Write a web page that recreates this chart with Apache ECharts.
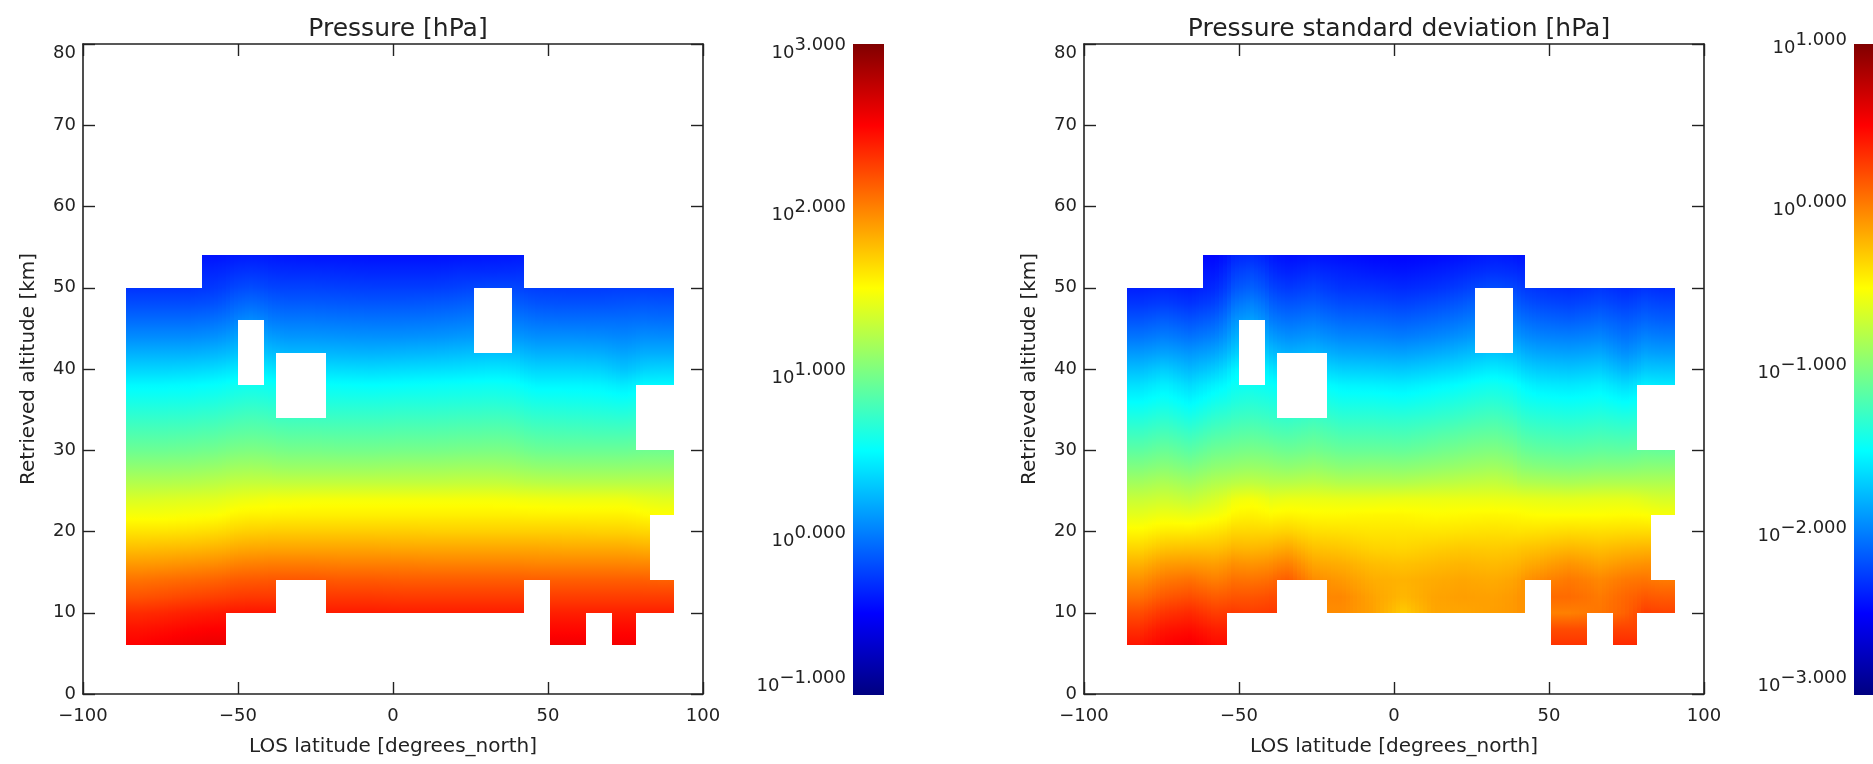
<!DOCTYPE html>
<html>
<head>
<meta charset="utf-8">
<title>Pressure retrieval</title>
<style>html,body{margin:0;padding:0;background:#fff;overflow:hidden}#chart{width:1873px;height:764px}</style>
<script src="https://cdn.jsdelivr.net/npm/echarts@6/dist/echarts.min.js"></script>
</head>
<body>
<div id="chart"></div>
<script>
const n = null;
const xTicks = [-100, -50, 0, 50, 100];
const pressureTitle = 'Pressure [hPa]';
const deviationTitle = 'Pressure standard deviation [hPa]';
const xName = 'LOS latitude [degrees_north]';
const yName = 'Retrieved altitude [km]';
const pressureRange = [-1, 3];
const deviationRange = [-3, 1];
const latEdges = [-86.2,-78,-70,-61.6,-54,-50,-41.7,-37.8,-30,-21.7,-12,-2,8,18,26.1,38.4,42.3,50.6,62.1,70.8,78.3,82.8,90.6];
const altLevels = [54,52,50,48,46,44,42,40,38,36,34,32,30,28,26,24,22,20,18,16,14,12,10,8,6];
// data gaps: [lat from, lat to, altitude from, altitude to]
const gaps = [
  [-86.2,-61.6,50,54],[42.3,90.6,50,54],
  [-50,-41.7,38,46],[-37.8,-21.7,34,42],[26.1,38.4,42,50],
  [78.3,90.6,30,38],[82.8,90.6,14,22],
  [-37.8,-21.7,10,14],[42.3,50.6,10,14],
  [-54,50.6,6,10],[62.1,70.8,6,10],[78.3,90.6,6,10]
];
// log10(pressure), one row per altitude level, one column per latitude bin
const pressureLog = [
[n,n,n,-.43,-.41,-.40,-.41,-.42,-.43,-.43,-.44,-.44,-.44,-.43,-.42,-.41,n,n,n,n,n,n],
[n,n,n,-.35,-.32,-.30,-.32,-.33,-.33,-.34,-.35,-.35,-.35,-.33,-.33,-.32,n,n,n,n,n,n],
[-.30,-.30,-.30,-.28,-.23,-.20,-.23,-.24,-.24,-.25,-.26,-.26,-.26,-.24,-.22,-.23,-.26,-.27,-.27,-.26,-.26,-.27],
[-.20,-.20,-.20,-.18,-.12,-.08,-.12,-.14,-.14,-.15,-.16,-.16,-.15,-.13,-.10,-.13,-.17,-.18,-.18,-.17,-.16,-.17],
[-.08,-.08,-.08,-.06,-.01,.05,-.01,-.03,-.03,-.04,-.05,-.05,-.04,-.02,0,-.02,-.06,-.07,-.07,-.07,-.06,-.07],
[.05,.05,.05,.07,.12,.16,.12,.09,.09,.08,.07,.07,.08,.10,.12,.10,.06,.06,.05,.03,.06,.05],
[.19,.19,.19,.21,.25,.28,.25,.22,.22,.21,.20,.21,.22,.24,.26,.24,.19,.19,.18,.14,.18,.18],
[.33,.33,.34,.36,.40,.42,.40,.37,.37,.36,.35,.36,.37,.38,.40,.38,.33,.33,.32,.26,.32,.33],
[.48,.48,.49,.51,.54,.56,.54,.52,.52,.51,.50,.51,.52,.53,.54,.52,.47,.47,.46,.42,.48,.48],
[.59,.59,.60,.62,.65,.67,.65,.63,.63,.62,.62,.63,.63,.64,.65,.63,.59,.58,.57,.55,.59,.59],
[.70,.70,.71,.73,.76,.78,.76,.74,.74,.73,.73,.74,.74,.75,.76,.74,.70,.69,.68,.67,.70,.70],
[.81,.81,.82,.84,.87,.88,.87,.85,.85,.84,.84,.85,.85,.86,.87,.85,.81,.80,.79,.79,.81,.81],
[.92,.92,.93,.95,.98,.99,.98,.96,.96,.95,.95,.96,.96,.97,.98,.96,.92,.91,.91,.91,.93,.93],
[1.06,1.06,1.07,1.09,1.12,1.13,1.12,1.10,1.10,1.10,1.10,1.11,1.11,1.12,1.12,1.10,1.07,1.06,1.06,1.06,1.07,1.07],
[1.20,1.20,1.21,1.23,1.26,1.27,1.27,1.26,1.26,1.26,1.26,1.26,1.26,1.27,1.27,1.25,1.23,1.22,1.22,1.22,1.22,1.22],
[1.35,1.36,1.37,1.38,1.41,1.43,1.45,1.45,1.46,1.46,1.46,1.46,1.46,1.46,1.46,1.45,1.44,1.43,1.43,1.43,1.40,1.38],
[1.47,1.47,1.48,1.49,1.53,1.55,1.55,1.56,1.56,1.56,1.56,1.56,1.56,1.56,1.56,1.56,1.55,1.55,1.55,1.55,1.52,1.50],
[1.61,1.61,1.62,1.64,1.67,1.69,1.70,1.70,1.70,1.70,1.70,1.70,1.69,1.69,1.69,1.69,1.69,1.69,1.68,1.68,1.66,n],
[1.75,1.76,1.77,1.79,1.82,1.84,1.85,1.85,1.85,1.85,1.85,1.84,1.84,1.84,1.84,1.84,1.84,1.83,1.83,1.83,1.81,n],
[1.90,1.91,1.93,1.95,1.98,2.00,2.01,2.01,2.01,2.00,2.00,2.00,1.99,1.99,1.99,1.99,1.98,1.98,1.98,1.98,1.97,n],
[2.05,2.07,2.09,2.11,2.14,2.15,2.16,2.16,2.16,2.15,2.15,2.14,2.14,2.14,2.14,2.14,2.13,2.13,2.13,2.13,2.13,2.12],
[2.18,2.20,2.23,2.25,2.27,2.28,2.28,n,n,2.28,2.28,2.27,2.27,2.27,2.27,2.27,n,2.26,2.26,2.26,2.26,2.26],
[2.33,2.35,2.38,2.40,2.42,2.42,2.42,n,n,2.40,2.40,2.39,2.39,2.39,2.39,2.39,n,2.38,2.38,2.38,2.38,2.38],
[2.43,2.45,2.48,2.50,n,n,n,n,n,n,n,n,n,n,n,n,n,2.47,n,2.47,n,n],
[2.50,2.53,2.56,2.58,n,n,n,n,n,n,n,n,n,n,n,n,n,2.55,n,2.54,n,n]
];
// log10(standard deviation), same grid
const deviationLog = [
[n,n,n,-2.48,-2.37,-2.34,-2.41,-2.45,-2.43,-2.45,-2.48,-2.49,-2.47,-2.44,-2.40,-2.43,n,n,n,n,n,n],
[n,n,n,-2.41,-2.27,-2.22,-2.32,-2.37,-2.33,-2.37,-2.40,-2.42,-2.39,-2.35,-2.31,-2.34,n,n,n,n,n,n],
[-2.38,-2.36,-2.39,-2.34,-2.18,-2.12,-2.23,-2.28,-2.24,-2.30,-2.31,-2.34,-2.31,-2.26,-2.20,-2.25,-2.30,-2.33,-2.29,-2.34,-2.30,-2.33],
[-2.29,-2.26,-2.30,-2.24,-2.06,-1.99,-2.12,-2.17,-2.14,-2.20,-2.21,-2.24,-2.20,-2.15,-2.08,-2.15,-2.21,-2.24,-2.20,-2.25,-2.20,-2.23],
[-2.17,-2.13,-2.18,-2.12,-1.94,-1.87,-2.01,-2.06,-2.03,-2.09,-2.10,-2.13,-2.09,-2.04,-1.98,-2.04,-2.10,-2.13,-2.09,-2.15,-2.10,-2.13],
[-2.04,-2.00,-2.05,-1.99,-1.83,-1.76,-1.88,-1.94,-1.91,-1.97,-1.98,-2.01,-1.97,-1.92,-1.86,-1.92,-1.98,-2.00,-1.97,-2.05,-1.98,-2.01],
[-1.90,-1.86,-1.91,-1.85,-1.71,-1.64,-1.75,-1.81,-1.78,-1.84,-1.85,-1.87,-1.83,-1.78,-1.72,-1.78,-1.85,-1.87,-1.84,-1.94,-1.86,-1.88],
[-1.76,-1.70,-1.78,-1.70,-1.56,-1.50,-1.60,-1.66,-1.63,-1.69,-1.70,-1.72,-1.68,-1.64,-1.58,-1.64,-1.71,-1.73,-1.70,-1.80,-1.72,-1.73],
[-1.62,-1.56,-1.64,-1.55,-1.47,-1.45,-1.48,-1.52,-1.48,-1.54,-1.55,-1.57,-1.53,-1.49,-1.44,-1.50,-1.57,-1.59,-1.56,-1.64,-1.56,-1.58],
[-1.50,-1.45,-1.52,-1.43,-1.38,-1.35,-1.38,-1.40,-1.36,-1.43,-1.43,-1.45,-1.41,-1.37,-1.33,-1.40,-1.45,-1.47,-1.45,-1.50,-1.45,-1.46],
[-1.38,-1.33,-1.40,-1.31,-1.27,-1.25,-1.28,-1.30,-1.26,-1.32,-1.32,-1.33,-1.30,-1.26,-1.22,-1.29,-1.34,-1.36,-1.34,-1.37,-1.34,-1.35],
[-1.26,-1.21,-1.27,-1.19,-1.16,-1.14,-1.17,-1.19,-1.15,-1.21,-1.21,-1.22,-1.18,-1.14,-1.11,-1.18,-1.23,-1.25,-1.23,-1.25,-1.22,-1.23],
[-1.14,-1.09,-1.15,-1.07,-1.05,-1.03,-1.05,-1.08,-1.05,-1.10,-1.10,-1.11,-1.07,-1.03,-1.00,-1.07,-1.12,-1.14,-1.12,-1.13,-1.10,-1.11],
[-1.00,-.96,-1.01,-.94,-.92,-.90,-.92,-.94,-.91,-.96,-.95,-.96,-.93,-.90,-.87,-.94,-.98,-1.00,-.98,-.98,-.96,-.96],
[-.86,-.82,-.87,-.80,-.77,-.75,-.78,-.78,-.76,-.80,-.80,-.80,-.77,-.75,-.73,-.79,-.81,-.83,-.81,-.81,-.81,-.81],
[-.72,-.69,-.73,-.66,-.57,-.54,-.60,-.58,-.58,-.59,-.59,-.58,-.58,-.58,-.58,-.59,-.60,-.61,-.60,-.60,-.63,-.66],
[-.60,-.56,-.58,-.54,-.47,-.45,-.48,-.46,-.48,-.48,-.47,-.47,-.49,-.48,-.47,-.48,-.50,-.50,-.50,-.49,-.50,-.53],
[-.47,-.42,-.42,-.39,-.34,-.34,-.34,-.32,-.37,-.38,-.40,-.40,-.40,-.39,-.38,-.39,-.38,-.36,-.37,-.36,-.36,n],
[-.34,-.27,-.26,-.26,-.21,-.22,-.20,-.16,-.26,-.28,-.33,-.34,-.31,-.29,-.30,-.28,-.26,-.22,-.25,-.22,-.21,n],
[-.20,-.11,-.10,-.12,-.06,-.08,-.05,0,-.15,-.18,-.24,-.26,-.23,-.21,-.23,-.20,-.15,-.08,-.14,-.09,-.07,n],
[-.07,.03,.06,0,.06,.05,.08,.14,-.05,-.10,-.18,-.20,-.17,-.15,-.17,-.12,-.04,.03,-.03,.03,.05,.02],
[.06,.16,.20,.14,.17,.17,.20,n,n,-.03,-.14,-.22,-.14,-.12,-.13,-.08,n,.08,.02,.10,.16,.14],
[.20,.30,.34,.26,.28,.26,.28,n,n,-.05,-.13,-.30,-.15,-.15,-.12,-.08,n,0,.04,.12,.26,.24],
[.32,.42,.45,.38,n,n,n,n,n,n,n,n,n,n,n,n,n,.20,n,.24,n,n],
[.42,.50,.54,.46,n,n,n,n,n,n,n,n,n,n,n,n,n,.30,n,.34,n,n]
];
const palette = [[0,[0,0,128]],[.125,[0,0,255]],[.375,[0,255,255]],[.625,[255,255,0]],[.875,[255,0,0]],[1,[128,0,0]]];

function jet(t){
  t = Math.max(0, Math.min(1, t));
  for (let i = 1; i < palette.length; i++) {
    if (t <= palette[i][0]) {
      const a = palette[i-1], b = palette[i], f = (t - a[0]) / (b[0] - a[0]);
      return 'rgb(' + a[1].map((c, k) => Math.round(c + (b[1][k] - c) * f)).join(',') + ')';
    }
  }
  return 'rgb(128,0,0)';
}
function missing(lat0, lat1, alt0, alt1){
  return gaps.some(g => lat0 < g[1] - 1e-6 && lat1 > g[0] + 1e-6 && alt0 < g[3] - 1e-6 && alt1 > g[2] + 1e-6);
}
function buildCells(rows){
  const out = [];
  for (let r = 0; r + 1 < altLevels.length; r++) {
    for (let c = 0; c + 1 < latEdges.length; c++) {
      const top = rows[r][c], bottom = rows[r+1][c];
      if (top === null || bottom === null) continue;
      if (missing(latEdges[c], latEdges[c+1], altLevels[r+1], altLevels[r])) continue;
      out.push([latEdges[c], latEdges[c+1], altLevels[r+1], altLevels[r], r, c]);
    }
  }
  return out;
}
// shade a value across its latitude bin, easing toward the neighbouring bin's reading
function shade(rows, r, c, f){
  const own = rows[r][c];
  const side = f < 0.5 ? c - 1 : c + 1;
  const other = side >= 0 && side < rows[r].length ? rows[r][side] : null;
  if (other === null) return own;
  const w = Math.abs(f - 0.5);
  return own + (other - own) * w;
}
function fieldRender(rows, range){
  return function(params, api){
    const a = api.coord([api.value(0), api.value(3)]);
    const b = api.coord([api.value(1), api.value(2)]);
    const r = api.value(4), c = api.value(5);
    const x0 = Math.round(a[0]), y0 = Math.round(a[1]), x1 = Math.round(b[0]), y1 = Math.round(b[1]);
    const strips = Math.max(1, Math.round((x1 - x0) / 4));
    const children = [];
    for (let s = 0; s < strips; s++) {
      const sx0 = x0 + Math.round((x1 - x0) * s / strips);
      const sx1 = x0 + Math.round((x1 - x0) * (s + 1) / strips);
      const f = (s + 0.5) / strips;
      const vTop = shade(rows, r, c, f), vBottom = shade(rows, r + 1, c, f), stops = [];
      for (let i = 0; i <= 4; i++) {
        const k = i / 4, v = vTop + (vBottom - vTop) * k;
        stops.push({offset: k, color: jet((v - range[0]) / (range[1] - range[0]))});
      }
      children.push({type: 'rect', shape: {x: sx0, y: y0, width: sx1 - sx0, height: y1 - y0},
        style: {fill: new echarts.graphic.LinearGradient(0, 0, 0, 1, stops)}});
    }
    return {type: 'group', children};
  };
}
function barRender(params, api){
  const a = api.coord([0, api.value(1)]), b = api.coord([1, api.value(0)]);
  const stops = palette.map(p => ({offset: 1 - p[0], color: 'rgb(' + p[1].join(',') + ')'})).reverse();
  return {type: 'rect', shape: {x: a[0], y: a[1], width: b[0] - a[0], height: b[1] - a[1]},
    style: {fill: new echarts.graphic.LinearGradient(0, 0, 0, 1, stops)}};
}
const ink = '#222';
const font = '"DejaVu Sans"';
const grids = [
  {left: 83, top: 44, width: 620, height: 650},
  {left: 1084, top: 44, width: 620, height: 650},
  {left: 853, top: 44, width: 31, height: 651},
  {left: 1854, top: 44, width: 31, height: 651}
];
const xAxis = [], yAxis = [];
[0, 1].forEach(g => {
  const line = {show: true, onZero: false, lineStyle: {color: ink, width: 1.6}};
  const tick = {show: true, inside: true, length: 12, lineStyle: {color: ink, width: 1.4}};
  xAxis.push({type: 'value', gridIndex: g, position: 'bottom', min: xTicks[0], max: xTicks[xTicks.length-1], interval: 50,
    name: xName, nameLocation: 'middle', nameGap: 43, nameTextStyle: {color: ink, fontFamily: font, fontSize: 20},
    axisLine: line, axisTick: tick, splitLine: {show: false},
    axisLabel: {color: ink, fontFamily: font, fontSize: 18, margin: 13, formatter: v => String(v).replace('-', '\u2212')}});
  xAxis.push({type: 'value', gridIndex: g, position: 'top', min: -100, max: 100, interval: 50,
    axisLine: line, axisTick: tick, splitLine: {show: false}, axisLabel: {show: false}});
  yAxis.push({type: 'value', gridIndex: g, position: 'left', min: 0, max: 80, interval: 10,
    name: yName, nameLocation: 'middle', nameGap: 44, nameTextStyle: {color: ink, fontFamily: font, fontSize: 20},
    axisLine: line, axisTick: tick, splitLine: {show: false},
    axisLabel: {color: ink, fontFamily: font, fontSize: 18, margin: 7, verticalAlignMaxLabel: 'top'}});
  yAxis.push({type: 'value', gridIndex: g, position: 'right', min: 0, max: 80, interval: 10,
    axisLine: line, axisTick: tick, splitLine: {show: false}, axisLabel: {show: false}});
});
[[2, pressureRange, 10], [3, deviationRange, 0]].forEach(([g, range, pad]) => {
  xAxis.push({type: 'value', gridIndex: g, min: 0, max: 1, show: false});
  yAxis.push({type: 'value', gridIndex: g, position: 'left', min: range[0], max: range[1], interval: 1,
    axisLine: {show: false}, axisTick: {show: false}, splitLine: {show: false},
    axisLabel: {margin: 7, verticalAlignMinLabel: 'bottom', padding: [pad, 0, 0, 0],
      formatter: v => '{b|10}{s|' + v.toFixed(3).replace('-', '\u2212') + '}',
      rich: {
        b: {color: ink, fontFamily: font, fontSize: 18, lineHeight: 26, verticalAlign: 'bottom'},
        s: {color: ink, fontFamily: font, fontSize: 18, lineHeight: 26, verticalAlign: 'top'}
      }}});
});
const option = {
  animation: false,
  backgroundColor: '#fff',
  title: [
    {text: pressureTitle, left: 393, top: 12, textAlign: 'center', textStyle: {color: ink, fontFamily: font, fontSize: 25, fontWeight: 'normal'}},
    {text: deviationTitle, left: 1394, top: 12, textAlign: 'center', textStyle: {color: ink, fontFamily: font, fontSize: 25, fontWeight: 'normal'}}
  ],
  grid: grids,
  xAxis, yAxis,
  series: [
    {type: 'custom', xAxisIndex: 0, yAxisIndex: 0, data: buildCells(pressureLog), renderItem: fieldRender(pressureLog, pressureRange), encode: {x: [0, 1], y: [2, 3]}, silent: true, progressive: 0},
    {type: 'custom', xAxisIndex: 2, yAxisIndex: 2, data: buildCells(deviationLog), renderItem: fieldRender(deviationLog, deviationRange), encode: {x: [0, 1], y: [2, 3]}, silent: true, progressive: 0},
    {type: 'custom', xAxisIndex: 4, yAxisIndex: 4, data: [pressureRange], renderItem: barRender, encode: {y: [0, 1]}, silent: true},
    {type: 'custom', xAxisIndex: 5, yAxisIndex: 5, data: [deviationRange], renderItem: barRender, encode: {y: [0, 1]}, silent: true}
  ]
};
echarts.init(document.getElementById('chart'), null, {renderer: 'canvas'}).setOption(option);
</script>
</body>
</html>
